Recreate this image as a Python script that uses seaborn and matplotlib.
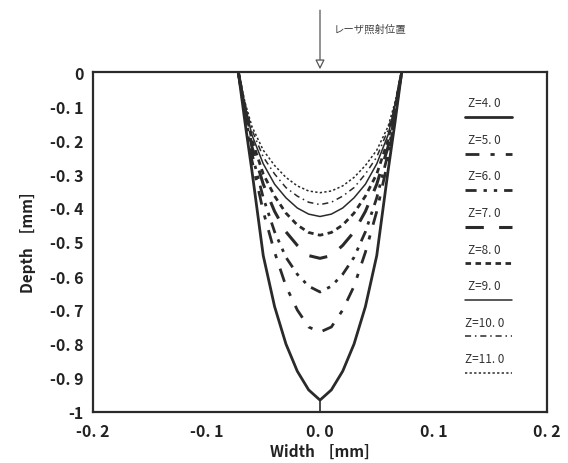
import matplotlib
matplotlib.use("Agg")
import matplotlib.pyplot as plt
import seaborn as sns
import pandas as pd
from matplotlib.lines import Line2D

sns.set_style("white")
plt.rcParams['font.family'] = ['Noto Sans CJK JP', 'DejaVu Sans']

# Width positions (mm), shared by all curves
width = [-0.072, -0.066, -0.06, -0.05, -0.04, -0.03, -0.02, -0.01, 0.0,
         0.01, 0.02, 0.03, 0.04, 0.05, 0.06, 0.066, 0.072]

depth_z4 = [0, -0.15, -0.29, -0.54, -0.69, -0.80, -0.88, -0.935, -0.965,
            -0.935, -0.88, -0.80, -0.69, -0.54, -0.29, -0.15, 0]
depth_z5 = [0, -0.13, -0.26, -0.41, -0.53, -0.63, -0.70, -0.75, -0.765,
            -0.75, -0.70, -0.63, -0.53, -0.41, -0.26, -0.13, 0]
depth_z6 = [0, -0.12, -0.24, -0.37, -0.47, -0.545, -0.595, -0.63, -0.647,
            -0.63, -0.595, -0.545, -0.47, -0.37, -0.24, -0.12, 0]
depth_z7 = [0, -0.11, -0.22, -0.33, -0.41, -0.47, -0.51, -0.54, -0.548,
            -0.54, -0.51, -0.47, -0.41, -0.33, -0.22, -0.11, 0]
depth_z8 = [0, -0.105, -0.20, -0.30, -0.365, -0.415, -0.45, -0.472, -0.48,
            -0.472, -0.45, -0.415, -0.365, -0.30, -0.20, -0.105, 0]
depth_z9 = [0, -0.10, -0.185, -0.27, -0.33, -0.37, -0.40, -0.418, -0.425,
            -0.418, -0.40, -0.37, -0.33, -0.27, -0.185, -0.10, 0]
depth_z10 = [0, -0.095, -0.17, -0.25, -0.30, -0.34, -0.365, -0.383, -0.39,
             -0.383, -0.365, -0.34, -0.30, -0.25, -0.17, -0.095, 0]
depth_z11 = [0, -0.09, -0.16, -0.23, -0.275, -0.31, -0.335, -0.35, -0.355,
             -0.35, -0.335, -0.31, -0.275, -0.23, -0.16, -0.09, 0]

series_labels = ["Z=4. 0", "Z=5. 0", "Z=6. 0", "Z=7. 0",
                 "Z=8. 0", "Z=9. 0", "Z=10. 0", "Z=11. 0"]
series_depths = [depth_z4, depth_z5, depth_z6, depth_z7,
                 depth_z8, depth_z9, depth_z10, depth_z11]

x_ticks = [-0.2, -0.1, 0.0, 0.1, 0.2]
x_tick_labels = ["-0. 2", "-0. 1", "0. 0", "0. 1", "0. 2"]
y_ticks = [0, -0.1, -0.2, -0.3, -0.4, -0.5, -0.6, -0.7, -0.8, -0.9, -1.0]
y_tick_labels = ["0", "-0. 1", "-0. 2", "-0. 3", "-0. 4", "-0. 5",
                 "-0. 6", "-0. 7", "-0. 8", "-0. 9", "-1"]

styles = [
    dict(lw=2.0, ls="-"),
    dict(lw=2.0, ls=(0, (5, 4, 1.5, 4))),
    dict(lw=2.0, ls=(0, (4, 2.5, 1.2, 2.5, 1.2, 2.5))),
    dict(lw=2.2, ls=(0, (6, 5))),
    dict(lw=2.0, ls=(0, (2, 1.6))),
    dict(lw=1.1, ls="-"),
    dict(lw=1.1, ls=(0, (4, 2.5, 1, 2.5))),
    dict(lw=1.1, ls=(0, (1.5, 1.5))),
]
color = "#2a2a2a"

fig = plt.figure(figsize=(5.68, 4.64), dpi=100)
ax = fig.add_axes([93/568, 1-413/464, (547-93)/568, (413-73)/464])

for lab, dep, st in zip(series_labels, series_depths, styles):
    df = pd.DataFrame({"Width": width, "Depth": dep})
    sns.lineplot(data=df, x="Width", y="Depth", ax=ax, sort=False,
                 color=color, linewidth=st["lw"], linestyle=st["ls"],
                 estimator=None)

# small vertical mark at the bottom of the deepest profile
ax.plot([0, 0], [-0.965, -1.0], color=color, lw=1.2)

ax.set_xlim(-0.2, 0.2)
ax.set_ylim(-1.0, 0.0)
ax.set_xticks(x_ticks)
ax.set_xticklabels(x_tick_labels)
ax.set_yticks(y_ticks)
ax.set_yticklabels(y_tick_labels)
ax.tick_params(direction="in", length=4, width=1.2, colors=color,
               labelsize=11.5)
ax.tick_params(axis="x", pad=8)
ax.tick_params(axis="y", pad=7)
for lbl in ax.get_xticklabels() + ax.get_yticklabels():
    lbl.set_fontweight("bold")
    lbl.set_color("#222222")
for sp in ax.spines.values():
    sp.set_visible(True)
    sp.set_linewidth(1.6)
    sp.set_color(color)

ax.set_xlabel("Width    [mm]", fontsize=11, fontweight="bold", color="#222222", labelpad=3)
ax.set_ylabel("Depth    [mm]", fontsize=11, fontweight="bold", color="#222222", labelpad=10)

# Custom legend: label above line sample
y0 = 0.909
step = 0.1074
for i, (lab, st) in enumerate(zip(series_labels, styles)):
    yt = y0 - i * step
    ax.text(0.863, yt, lab, transform=ax.transAxes, ha="center", va="center",
            fontsize=8.5, color="#333333")
    ax.add_line(Line2D([0.819, 0.923], [yt - 0.042, yt - 0.042],
                       transform=ax.transAxes, color=color,
                       linewidth=st["lw"], linestyle=st["ls"]))

# Laser irradiation position marker
ax.annotate("", xy=(0.0, 0.0), xytext=(0.0, 0.19), xycoords="data",
            textcoords="data", annotation_clip=False,
            arrowprops=dict(arrowstyle="-|>", color="#555555", lw=0.9,
                            mutation_scale=14, fc="white"))
ax.text(0.012, 0.128, "レーザ照射位置", fontsize=7.5, color="#444444",
        ha="left", va="center", clip_on=False)

fig.savefig("out.png", dpi=100)
